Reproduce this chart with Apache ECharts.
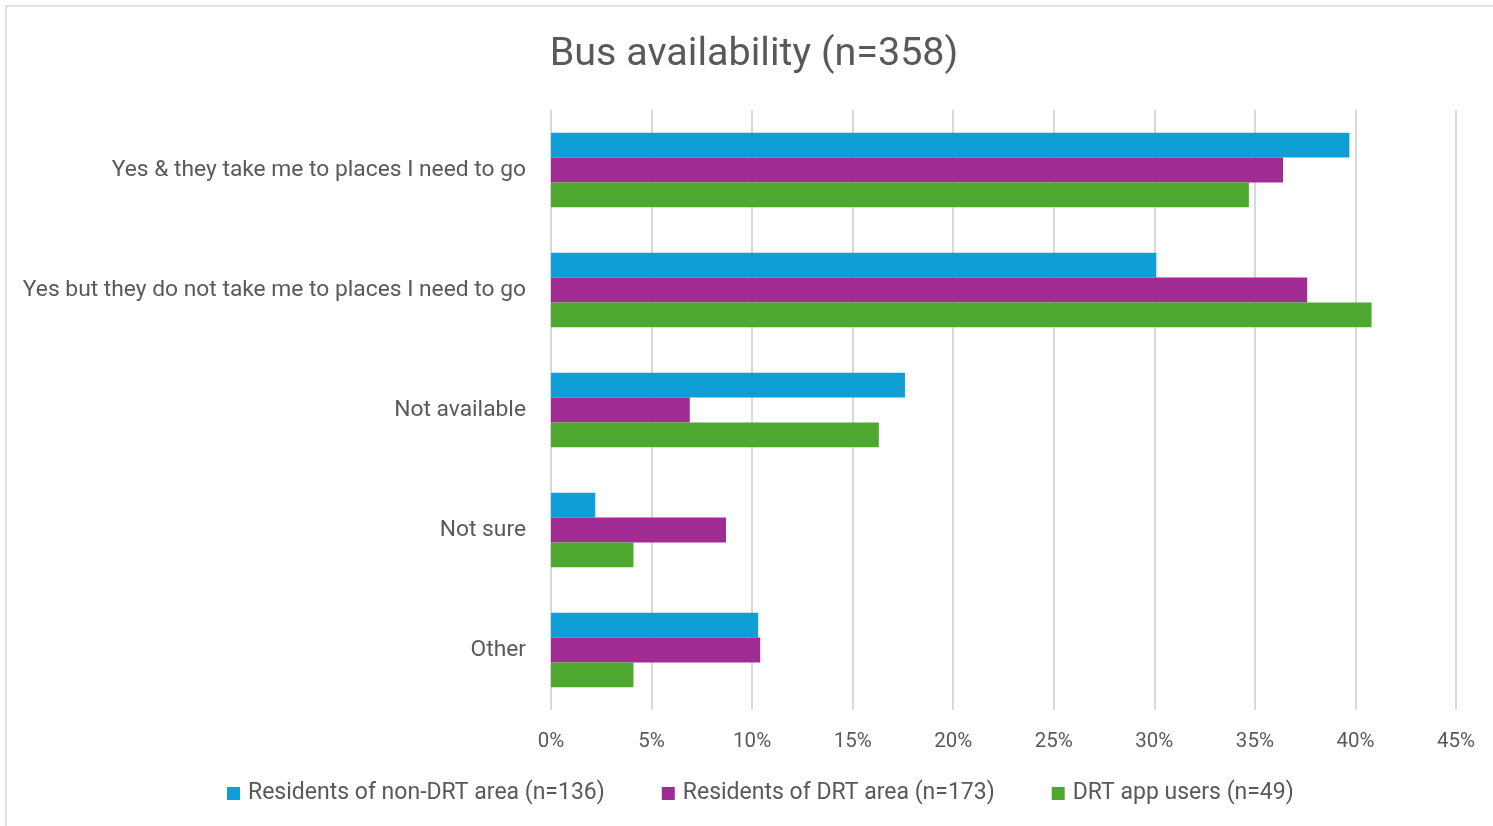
<!DOCTYPE html>
<html>
<head>
<meta charset="utf-8">
<style>
  html, body { margin: 0; padding: 0; background: #ffffff; }
  #chart { width: 1493px; height: 826px; }
</style>
<script src="https://cdn.jsdelivr.net/npm/echarts@6/dist/echarts.min.js"></script>
</head>
<body>
<div id="chart"></div>
<script>
// Response categories (top to bottom)
const categories = [
  'Yes & they take me to places I need to go',
  'Yes but they do not take me to places I need to go',
  'Not available',
  'Not sure',
  'Other'
];

// Share of respondents in each group (%)
const nonDrtResidents = [39.7, 30.1, 17.6, 2.2, 10.3];
const drtResidents = [36.4, 37.6, 6.9, 8.7, 10.4];
const drtAppUsers = [34.7, 40.8, 16.3, 4.1, 4.1];

const seriesNames = [
  'Residents of non-DRT area (n=136)',
  'Residents of DRT area (n=173)',
  'DRT app users (n=49)'
];

const chartTitle = 'Bus availability (n=358)';

const FONT = 'Roboto, "Noto Sans", sans-serif';
const TEXT = '#595959';
const GRID = '#D9D9D9';
const COLORS = ['#0F9ED5', '#A02B93', '#4EA72E'];

const chart = echarts.init(document.getElementById('chart'), null, { renderer: 'canvas' });

function barSeries(name, values, color) {
  return {
    name: name,
    type: 'bar',
    data: values,
    barGap: '0%',
    barCategoryGap: '38%',
    itemStyle: { color: color },
    emphasis: { disabled: true }
  };
}

chart.setOption({
  animation: false,
  backgroundColor: '#ffffff',
  textStyle: { fontFamily: FONT, color: TEXT },
  graphic: [{
    type: 'rect',
    shape: { x: 6, y: 6, width: 1500, height: 840 },
    style: { fill: 'none', stroke: GRID, lineWidth: 1.5 },
    silent: true,
    z: -10
  }],
  title: {
    text: chartTitle,
    left: 749,
    textAlign: 'center',
    top: 30,
    textStyle: { fontFamily: FONT, fontWeight: 'normal', fontSize: 39.5, color: TEXT }
  },
  legend: {
    bottom: 16,
    left: 222,
    itemWidth: 13,
    itemHeight: 13,
    itemGap: 57,
    icon: 'rect',
    textStyle: { fontFamily: FONT, fontSize: 23, color: TEXT, padding: [0, 0, 0, 3] },
    data: seriesNames
  },
  grid: { left: 551, right: 37, top: 110, bottom: 116, containLabel: false },
  xAxis: {
    type: 'value',
    min: 0,
    max: 45,
    interval: 5,
    axisLine: { show: false },
    axisTick: { show: false },
    splitLine: { show: true, lineStyle: { color: GRID, width: 2 } },
    axisLabel: {
      formatter: '{value}%',
      fontFamily: FONT,
      fontSize: 20.5,
      color: TEXT,
      margin: 21
    }
  },
  yAxis: {
    type: 'category',
    inverse: true,
    data: categories,
    axisLine: { show: false },
    axisTick: { show: false },
    axisLabel: { fontFamily: FONT, fontSize: 22.8, color: TEXT, margin: 25 }
  },
  series: [
    barSeries(seriesNames[0], nonDrtResidents, COLORS[0]),
    barSeries(seriesNames[1], drtResidents, COLORS[1]),
    barSeries(seriesNames[2], drtAppUsers, COLORS[2])
  ]
});
</script>
</body>
</html>
